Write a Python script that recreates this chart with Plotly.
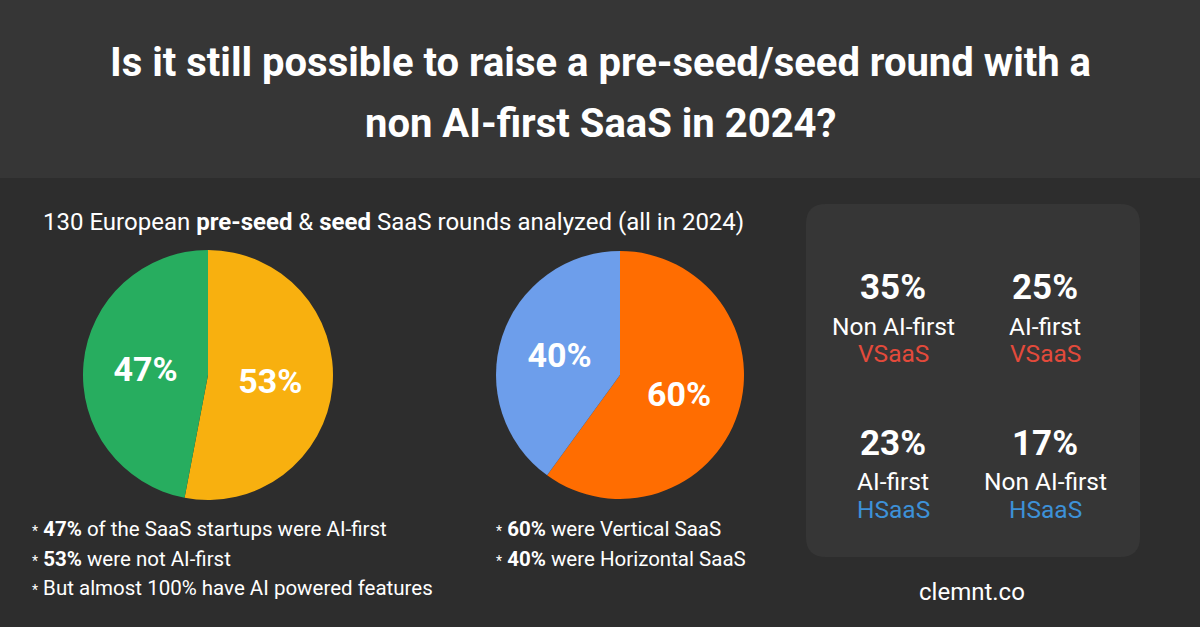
import plotly.graph_objects as go

# data
ai_labels = ["Not AI-first", "AI-first"]
ai_values = [53, 47]
ai_colors = ["#f8b00f", "#27ad5f"]

vert_labels = ["Vertical SaaS", "Horizontal SaaS"]
vert_values = [60, 40]
vert_colors = ["#ff6d01", "#6d9eeb"]

grid_pcts = ["35%", "25%", "23%", "17%"]
grid_kinds = ["Non AI-first", "AI-first", "AI-first", "Non AI-first"]
grid_types = ["VSaaS", "VSaaS", "HSaaS", "HSaaS"]
type_colors = {"VSaaS": "#e34a3b", "HSaaS": "#3d91d8"}

notes_left = ["<b>47%</b> of the SaaS startups were AI-first",
              "<b>53%</b> were not AI-first",
              "But almost 100% have AI powered features"]
notes_right = ["<b>60%</b> were Vertical SaaS",
               "<b>40%</b> were Horizontal SaaS"]

W, H = 1200, 627
FONT = "Roboto"


def px(x):
    return x / W


def py(y):
    return 1 - y / H


fig = go.Figure()

fig.add_trace(go.Pie(labels=ai_labels, values=ai_values, sort=False,
                     direction="clockwise", rotation=0,
                     marker=dict(colors=ai_colors, line=dict(width=0)),
                     textinfo="percent", textposition="inside",
                     insidetextorientation="horizontal",
                     textfont=dict(family=FONT, size=34, color="white", weight="bold"),
                     domain=dict(x=[px(83), px(333)], y=[py(500), py(250)]),
                     hoverinfo="label+percent", showlegend=False))

fig.add_trace(go.Pie(labels=vert_labels, values=vert_values, sort=False,
                     direction="clockwise", rotation=0,
                     marker=dict(colors=vert_colors, line=dict(width=0)),
                     textinfo="percent", textposition="inside",
                     insidetextorientation="horizontal",
                     textfont=dict(family=FONT, size=34, color="white", weight="bold"),
                     domain=dict(x=[px(496), px(744)], y=[py(499), py(251)]),
                     hoverinfo="label+percent", showlegend=False))

shapes = [
    dict(type="rect", xref="paper", yref="paper", x0=0, x1=1, y0=py(178), y1=1,
         fillcolor="#363636", line=dict(width=0), layer="below"),
]
# rounded panel
x0, x1, y0, y1, r = px(806), px(1140), py(557), py(204), 20
rx, ry = r / W, r / H
path = (f"M {x0+rx},{y1} L {x1-rx},{y1} Q {x1},{y1} {x1},{y1-ry} "
        f"L {x1},{y0+ry} Q {x1},{y0} {x1-rx},{y0} L {x0+rx},{y0} "
        f"Q {x0},{y0} {x0},{y0+ry} L {x0},{y1-ry} Q {x0},{y1} {x0+rx},{y1} Z")
shapes.append(dict(type="path", xref="paper", yref="paper", path=path,
                   fillcolor="#363636", line=dict(width=0), layer="below"))

ann = []


def text(x, y, s, size, color="white", bold=False, xanchor="center"):
    ann.append(dict(x=px(x), y=py(y), xref="paper", yref="paper", text=s,
                    showarrow=False, xanchor=xanchor, yanchor="middle",
                    font=dict(family=FONT, size=size, color=color,
                              weight="bold" if bold else "normal")))


text(600, 62, "Is it still possible to raise a pre-seed/seed round with a", 40, bold=True)
text(600, 123, "non AI-first SaaS in 2024?", 40, bold=True)
text(393, 222, "130 European <b>pre-seed</b> &amp; <b>seed</b> SaaS rounds analyzed (all in 2024)", 24)

for i, s in enumerate(notes_left):
    text(30, 529 + i * 29.5, "<span style='font-size:14px'>*</span> " + s, 20.5, xanchor="left")
for i, s in enumerate(notes_right):
    text(494, 529 + i * 29.5, "<span style='font-size:14px'>*</span> " + s, 20.5, xanchor="left")

cols = [893, 1045]
rows = [288, 443]
for i in range(4):
    cx = cols[i % 2]
    cy = rows[i // 2]
    text(cx, cy, grid_pcts[i], 35, bold=True)
    text(cx, cy + 38, grid_kinds[i], 24.5)
    text(cx, cy + 66, grid_types[i], 24.5, color=type_colors[grid_types[i]])

text(972, 592, "clemnt.co", 24)

fig.update_layout(width=W, height=H, margin=dict(l=0, r=0, t=0, b=0),
                  paper_bgcolor="#2d2d2d", plot_bgcolor="#2d2d2d",
                  shapes=shapes, annotations=ann,
                  font=dict(family=FONT, color="white"))

fig.write_html("out.html", config={"displayModeBar": False},
               post_script="document.body.style.margin='0';")
